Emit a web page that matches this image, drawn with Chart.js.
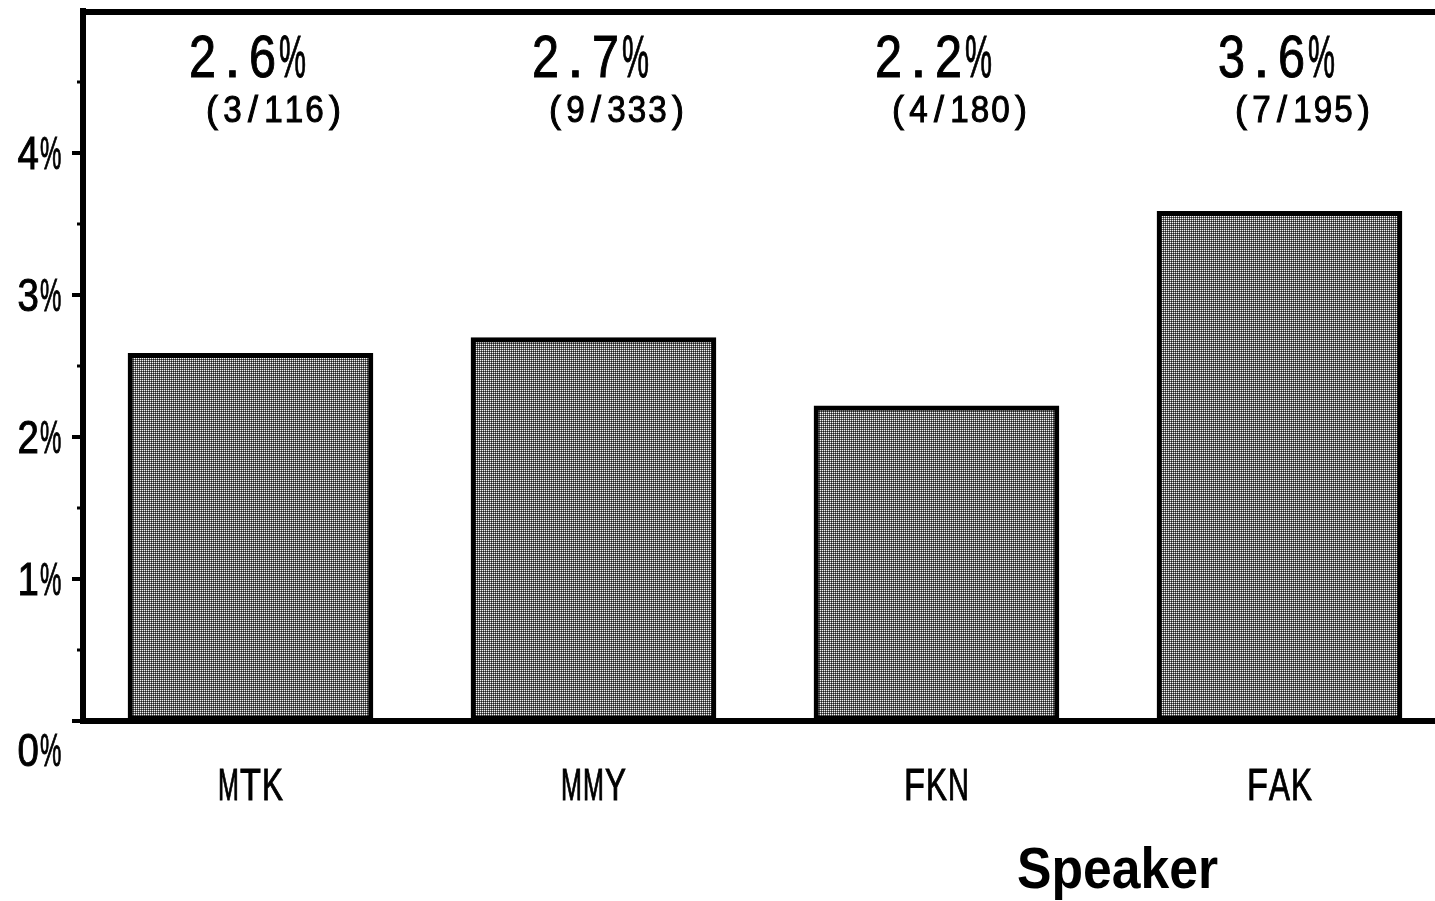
<!DOCTYPE html>
<html>
<head>
<meta charset="utf-8">
<script src="https://cdn.jsdelivr.net/npm/chart.js@4.4.1/dist/chart.umd.min.js"></script>
<style>
html, body { margin: 0; padding: 0; background: #fff; overflow: hidden; }
#wrap { width: 1435px; height: 901px; }
</style>
</head>
<body>
<div id="wrap"><canvas id="speaker_chart"></canvas></div>
<script>
const speakers = ['MTK', 'MMY', 'FKN', 'FAK'];
const rates = [2.59, 2.70, 2.22, 3.59];
const rate_labels = ['2.6%', '2.7%', '2.2%', '3.6%'];
const count_labels = ['(3/116)', '(9/333)', '(4/180)', '(7/195)'];
const y_tick_labels = ['0%', '1%', '2%', '3%', '4%'];

const FONT = "'Liberation Sans', Arial, sans-serif";

// stipple fill like the old printer dither
function make_stipple() {
    const c = document.createElement('canvas');
    c.width = 2; c.height = 2;
    const g = c.getContext('2d');
    const cols = [['#f4f4f4', '#6a6a6a'], ['#6a6a6a', '#1e1e1e']];
    cols.forEach((r, y) => r.forEach((col, x) => {
        g.fillStyle = col;
        g.fillRect(x, y, 1, 1);
    }));
    return g.createPattern(c, 'repeat');
}

// half-width cells like a japanese gothic font, wide glyphs squeezed to fit
function mono_text(ctx, text, start, y, cell, fit) {
    for (let i = 0; i < text.length; i++) {
        const w = ctx.measureText(text[i]).width;
        const sq = Math.min(1, cell * fit / w);
        ctx.save();
        ctx.translate(start + cell * (i + 0.5), y);
        ctx.scale(sq, 1);
        ctx.fillText(text[i], 0, 0);
        ctx.strokeText(text[i], 0, 0);
        ctx.restore();
    }
}

const labels_plugin = {
    id: 'labels_plugin',
    afterDraw(chart) {
        const ctx = chart.ctx;
        const area = chart.chartArea;
        const xs = chart.scales.x;
        const ys = chart.scales.y;
        ctx.save();
        ctx.fillStyle = '#000';
        ctx.strokeStyle = '#000';

        // top frame line
        ctx.lineWidth = 6;
        ctx.beginPath();
        ctx.moveTo(area.left - 3, area.top + 1);
        ctx.lineTo(area.right, area.top + 1);
        ctx.stroke();

        // y ticks, major and minor
        ys.ticks.forEach(t => {
            const py = Math.round(ys.getPixelForValue(t.value));
            const major = Number.isInteger(t.value);
            if (t.value >= 5) return;
            ctx.lineWidth = major ? 4 : 3;
            ctx.beginPath();
            ctx.moveTo(area.left - (major ? 11 : 6), py);
            ctx.lineTo(area.left, py);
            ctx.stroke();
        });

        ctx.textAlign = 'center';
        ctx.textBaseline = 'alphabetic';
        ctx.lineWidth = 1;

        // y tick labels
        ctx.font = '47px ' + FONT;
        y_tick_labels.forEach((lab, i) => {
            let py = ys.getPixelForValue(i) + 16;
            if (i === 0) py = ys.getPixelForValue(0) + 45;
            mono_text(ctx, lab, 62 - lab.length * 22.5, py, 22.5, 0.95);
        });

        // rate and count labels over each bar
        speakers.forEach((name, i) => {
            const cx = xs.getPixelForValue(i);
            ctx.font = '59px ' + FONT;
            mono_text(ctx, rate_labels[i], cx - 63, 77, 30, 0.9);
            ctx.font = '36px ' + FONT;
            const w = count_labels[i].length * 20.5;
            mono_text(ctx, count_labels[i], cx + 23 - w / 2, 122, 20.5, 0.9);

            ctx.font = '45px ' + FONT;
            mono_text(ctx, name, cx - name.length * 22 / 2, 800, 22, 0.95);
        });

        // axis title, squeezed to its width
        ctx.font = 'bold 57px ' + FONT;
        ctx.textAlign = 'left';
        const tw = ctx.measureText('Speaker').width;
        ctx.translate(1017, 888);
        ctx.scale(Math.min(1, 201 / tw), 1);
        ctx.fillText('Speaker', 0, 0);

        ctx.restore();
    }
};

const speaker_data = {
    datasets: [{
        label: 'Rate',
        data: rates.map((v, i) => ({ x: i, y: v })),
        backgroundColor: make_stipple(),
        borderColor: '#000',
        borderWidth: 5,
        borderSkipped: false,
        barThickness: 245
    }]
};

const bar_config = {
    type: 'bar',
    data: speaker_data,
    options: {
        responsive: true,
        maintainAspectRatio: false,
        devicePixelRatio: 1,
        animation: false,
        layout: { padding: { top: 11, right: 0, left: 0, bottom: 0 } },
        plugins: {
            legend: { display: false },
            tooltip: { enabled: false },
            title: { display: false }
        },
        scales: {
            x: {
                type: 'linear',
                offset: false,
                min: -0.4883,
                max: 3.4534,
                grid: { display: true, drawOnChartArea: false, drawTicks: false, offset: false },
                ticks: { display: false },
                border: { display: true, width: 6, color: '#000' },
                afterFit: s => { s.height = 180; }
            },
            y: {
                min: 0,
                max: 5,
                ticks: { display: false, stepSize: 0.5 },
                grid: { display: true, drawOnChartArea: false, drawTicks: false },
                border: { display: true, width: 6, color: '#000' },
                afterFit: s => { s.width = 83; }
            }
        }
    },
    plugins: [labels_plugin]
};

new Chart(document.getElementById('speaker_chart'), bar_config);
</script>
</body>
</html>
